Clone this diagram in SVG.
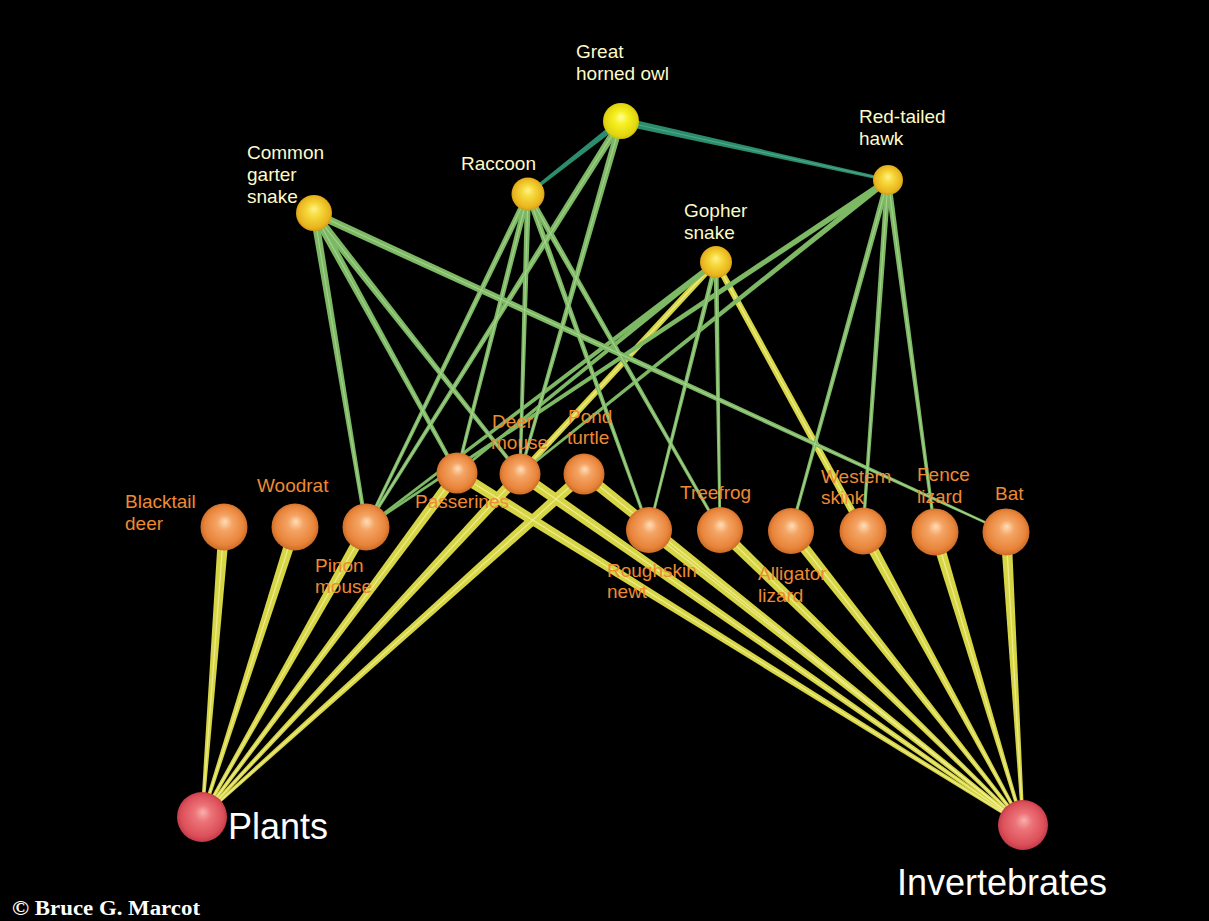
<svg xmlns="http://www.w3.org/2000/svg" width="1209" height="921" viewBox="0 0 1209 921">
<defs>
<style>
.g{fill:#7DB864}
.y{fill:#D6D545}
.t{fill:#2C8C6E}
.hg{stroke:#B4DC9C;stroke-width:1.1;stroke-linecap:round;opacity:0.75}
.hy{stroke:#F6F4A2;stroke-width:1.3;stroke-linecap:round;opacity:0.75}
.ht{stroke:#5CB494;stroke-width:1.1;opacity:0.7}
.lt{font-family:"Liberation Sans",Arial,sans-serif;font-size:19px;fill:#FFFAC8}
.lo{font-family:"Liberation Sans",Arial,sans-serif;font-size:19px;fill:#EE8A32}
.lw{font-family:"Liberation Sans",Arial,sans-serif;font-size:36px;fill:#FFFFFF}
.cp{font-family:"Liberation Serif","DejaVu Serif",serif;font-size:20px;font-weight:bold;fill:#FFFFFF}
</style>
<radialGradient id="gold" cx="0.5" cy="0.5" r="0.55" fx="0.5" fy="0.38">
<stop offset="0" stop-color="#FFF28A"/><stop offset="0.35" stop-color="#F6D83A"/><stop offset="0.8" stop-color="#E8B41E"/><stop offset="1" stop-color="#C88C10"/>
</radialGradient>
<radialGradient id="yel" cx="0.5" cy="0.5" r="0.55" fx="0.5" fy="0.38">
<stop offset="0" stop-color="#FFFF9A"/><stop offset="0.35" stop-color="#F6F020"/><stop offset="0.8" stop-color="#E2D610"/><stop offset="1" stop-color="#C4B408"/>
</radialGradient>
<radialGradient id="org" cx="0.5" cy="0.5" r="0.55" fx="0.52" fy="0.38">
<stop offset="0" stop-color="#FFDDB8"/><stop offset="0.3" stop-color="#F4A464"/><stop offset="0.75" stop-color="#E8843A"/><stop offset="1" stop-color="#C0601E"/>
</radialGradient>
<radialGradient id="red" cx="0.5" cy="0.5" r="0.55" fx="0.52" fy="0.4">
<stop offset="0" stop-color="#F8B0B0"/><stop offset="0.3" stop-color="#EC7478"/><stop offset="0.75" stop-color="#DC505A"/><stop offset="1" stop-color="#B83040"/>
</radialGradient>
</defs>
<rect width="1209" height="921" fill="#000"/>
<g id="connectors">
<polygon class="t" points="620.1,124.9 887.7,181.5 888.3,178.5 621.9,117.1"/>
<polygon class="t" points="619.1,118.6 527.1,192.8 528.9,195.2 622.9,123.4"/>
<line class="ht" x1="621" y1="121" x2="888" y2="180"/>
<polygon class="y" points="218.5,526.6 200.5,816.9 203.5,817.1 229.5,527.4"/>
<polygon class="y" points="289.8,525.3 200.6,816.5 203.4,817.5 300.2,528.7"/>
<polygon class="y" points="361.2,524.3 200.7,816.3 203.3,817.7 370.8,529.7"/>
<polygon class="y" points="452.6,469.7 200.8,816.1 203.2,817.9 461.4,476.3"/>
<polygon class="y" points="516.0,470.3 200.9,816.0 203.1,818.0 524.0,477.7"/>
<polygon class="y" points="580.3,469.9 201.0,815.9 203.0,818.1 587.7,478.1"/>
<polygon class="y" points="454.1,477.7 1022.2,826.3 1023.8,823.7 459.9,468.3"/>
<polygon class="y" points="516.9,478.5 1022.1,826.2 1023.9,823.8 523.1,469.5"/>
<polygon class="y" points="580.6,478.3 1022.1,826.2 1023.9,823.8 587.4,469.7"/>
<polygon class="y" points="645.6,534.3 1022.1,826.2 1023.9,823.8 652.4,525.7"/>
<polygon class="y" points="716.2,533.9 1022.0,826.1 1024.0,823.9 723.8,526.1"/>
<polygon class="y" points="786.7,534.4 1021.8,825.9 1024.2,824.1 795.3,527.6"/>
<polygon class="y" points="858.2,533.6 1021.7,825.7 1024.3,824.3 867.8,528.4"/>
<polygon class="y" points="929.7,533.6 1021.6,825.4 1024.4,824.6 940.3,530.4"/>
<polygon class="y" points="1000.5,532.3 1021.5,825.1 1024.5,824.9 1011.5,531.7"/>
<polygon class="y" points="713.8,260.0 517.8,472.0 522.2,476.0 718.2,264.0"/>
<polygon class="y" points="713.4,263.4 859.9,532.7 866.1,529.3 718.6,260.6"/>
<line class="hy" x1="224" y1="527" x2="202" y2="817"/>
<line class="hy" x1="295" y1="527" x2="202" y2="817"/>
<line class="hy" x1="366" y1="527" x2="202" y2="817"/>
<line class="hy" x1="457" y1="473" x2="202" y2="817"/>
<line class="hy" x1="520" y1="474" x2="202" y2="817"/>
<line class="hy" x1="584" y1="474" x2="202" y2="817"/>
<line class="hy" x1="457" y1="473" x2="1023" y2="825"/>
<line class="hy" x1="520" y1="474" x2="1023" y2="825"/>
<line class="hy" x1="584" y1="474" x2="1023" y2="825"/>
<line class="hy" x1="649" y1="530" x2="1023" y2="825"/>
<line class="hy" x1="720" y1="530" x2="1023" y2="825"/>
<line class="hy" x1="791" y1="531" x2="1023" y2="825"/>
<line class="hy" x1="863" y1="531" x2="1023" y2="825"/>
<line class="hy" x1="935" y1="532" x2="1023" y2="825"/>
<line class="hy" x1="1006" y1="532" x2="1023" y2="825"/>
<line class="hy" x1="716" y1="262" x2="520" y2="474"/>
<line class="hy" x1="716" y1="262" x2="863" y2="531"/>
<polygon class="g" points="310.1,213.7 364.2,527.3 367.8,526.7 318.0,212.4"/>
<polygon class="g" points="310.5,214.9 455.4,473.9 458.6,472.1 317.5,211.1"/>
<polygon class="g" points="310.9,215.5 518.6,475.1 521.4,472.9 317.1,210.5"/>
<polygon class="g" points="312.3,216.6 1005.5,533.1 1006.5,530.9 315.7,209.4"/>
<polygon class="g" points="525.3,192.7 364.7,526.3 367.4,527.7 530.7,195.3"/>
<polygon class="g" points="525.1,193.3 455.5,472.6 458.5,473.4 530.9,194.7"/>
<polygon class="g" points="525.0,193.9 518.5,474.0 521.5,474.0 531.0,194.1"/>
<polygon class="g" points="525.2,195.0 647.6,530.5 650.4,529.5 530.8,193.0"/>
<polygon class="g" points="525.4,195.5 718.7,530.7 721.3,529.3 530.6,192.5"/>
<polygon class="g" points="618.0,119.1 364.7,526.2 367.3,527.8 624.0,122.9"/>
<polygon class="g" points="617.6,120.0 518.6,473.6 521.4,474.4 624.4,122.0"/>
<polygon class="g" points="886.3,177.5 365.3,526.0 366.7,528.0 889.7,182.5"/>
<polygon class="g" points="886.1,177.7 519.3,473.1 520.7,474.9 889.9,182.3"/>
<polygon class="g" points="885.1,179.2 789.6,530.6 792.4,531.4 890.9,180.8"/>
<polygon class="g" points="885.0,179.8 861.5,530.9 864.5,531.1 891.0,180.2"/>
<polygon class="g" points="885.0,180.4 933.5,532.2 936.5,531.8 891.0,179.6"/>
<polygon class="g" points="714.4,260.1 456.2,472.0 457.8,474.0 717.6,263.9"/>
<polygon class="g" points="714.5,260.0 365.2,526.0 366.8,528.0 717.5,264.0"/>
<polygon class="g" points="713.6,261.4 647.7,529.7 650.3,530.3 718.4,262.6"/>
<polygon class="g" points="713.5,262.0 718.7,530.0 721.3,530.0 718.5,262.0"/>
<line class="hg" x1="314" y1="213" x2="366" y2="527"/>
<line class="hg" x1="314" y1="213" x2="457" y2="473"/>
<line class="hg" x1="314" y1="213" x2="520" y2="474"/>
<line class="hg" x1="314" y1="213" x2="1006" y2="532"/>
<line class="hg" x1="528" y1="194" x2="366" y2="527"/>
<line class="hg" x1="528" y1="194" x2="457" y2="473"/>
<line class="hg" x1="528" y1="194" x2="520" y2="474"/>
<line class="hg" x1="528" y1="194" x2="649" y2="530"/>
<line class="hg" x1="528" y1="194" x2="720" y2="530"/>
<line class="hg" x1="621" y1="121" x2="366" y2="527"/>
<line class="hg" x1="621" y1="121" x2="520" y2="474"/>
<line class="hg" x1="888" y1="180" x2="791" y2="531"/>
<line class="hg" x1="888" y1="180" x2="863" y2="531"/>
<line class="hg" x1="888" y1="180" x2="935" y2="532"/>
<line class="hg" x1="716" y1="262" x2="649" y2="530"/>
<line class="hg" x1="716" y1="262" x2="720" y2="530"/>
</g>
<g id="great-horned-owl"><circle cx="621" cy="121" r="18" fill="url(#yel)"/><text class="lt" x="576" y="58">Great</text><text class="lt" x="576" y="80">horned owl</text></g>
<g id="red-tailed-hawk"><circle cx="888" cy="180" r="15" fill="url(#gold)"/><text class="lt" x="859" y="123">Red-tailed</text><text class="lt" x="859" y="145">hawk</text></g>
<g id="raccoon"><circle cx="528" cy="194" r="16.5" fill="url(#gold)"/><text class="lt" x="461" y="170">Raccoon</text></g>
<g id="common-garter-snake"><circle cx="314" cy="213" r="18" fill="url(#gold)"/><text class="lt" x="247" y="159">Common</text><text class="lt" x="247" y="181">garter</text><text class="lt" x="247" y="203">snake</text></g>
<g id="gopher-snake"><circle cx="716" cy="262" r="16" fill="url(#gold)"/><text class="lt" x="684" y="217">Gopher</text><text class="lt" x="684" y="239">snake</text></g>
<g id="blacktail-deer"><circle cx="224" cy="527" r="23.5" fill="url(#org)"/><text class="lo" x="125" y="508">Blacktail</text><text class="lo" x="125" y="530">deer</text></g>
<g id="woodrat"><circle cx="295" cy="527" r="23.5" fill="url(#org)"/><text class="lo" x="257" y="492">Woodrat</text></g>
<g id="pinon-mouse"><circle cx="366" cy="527" r="23.5" fill="url(#org)"/><text class="lo" x="315" y="572">Pinon</text><text class="lo" x="315" y="593">mouse</text></g>
<g id="passerines"><circle cx="457" cy="473" r="20.5" fill="url(#org)"/><text class="lo" x="415" y="508">Passerines</text></g>
<g id="deer-mouse"><circle cx="520" cy="474" r="20.5" fill="url(#org)"/><text class="lo" x="492" y="428">Deer</text><text class="lo" x="491" y="449">mouse</text></g>
<g id="pond-turtle"><circle cx="584" cy="474" r="20.5" fill="url(#org)"/><text class="lo" x="568" y="423">Pond</text><text class="lo" x="567" y="444">turtle</text></g>
<g id="roughskin-newt"><circle cx="649" cy="530" r="23" fill="url(#org)"/><text class="lo" x="607" y="577">Roughskin</text><text class="lo" x="607" y="598">newt</text></g>
<g id="treefrog"><circle cx="720" cy="530" r="23" fill="url(#org)"/><text class="lo" x="680" y="499">Treefrog</text></g>
<g id="alligator-lizard"><circle cx="791" cy="531" r="23" fill="url(#org)"/><text class="lo" x="758" y="580">Alligator</text><text class="lo" x="758" y="602">lizard</text></g>
<g id="western-skink"><circle cx="863" cy="531" r="23.5" fill="url(#org)"/><text class="lo" x="821" y="483">Western</text><text class="lo" x="821" y="504">skink</text></g>
<g id="fence-lizard"><circle cx="935" cy="532" r="23.5" fill="url(#org)"/><text class="lo" x="917" y="481">Fence</text><text class="lo" x="917" y="503">lizard</text></g>
<g id="bat"><circle cx="1006" cy="532" r="23.5" fill="url(#org)"/><text class="lo" x="995" y="500">Bat</text></g>
<g id="plants"><circle cx="202" cy="817" r="25" fill="url(#red)"/><text class="lw" x="228" y="839">Plants</text></g>
<g id="invertebrates"><circle cx="1023" cy="825" r="25" fill="url(#red)"/><text class="lw" x="897" y="895">Invertebrates</text></g>
<text class="cp" x="12" y="915" textLength="188" lengthAdjust="spacingAndGlyphs">© Bruce G. Marcot</text>
</svg>
